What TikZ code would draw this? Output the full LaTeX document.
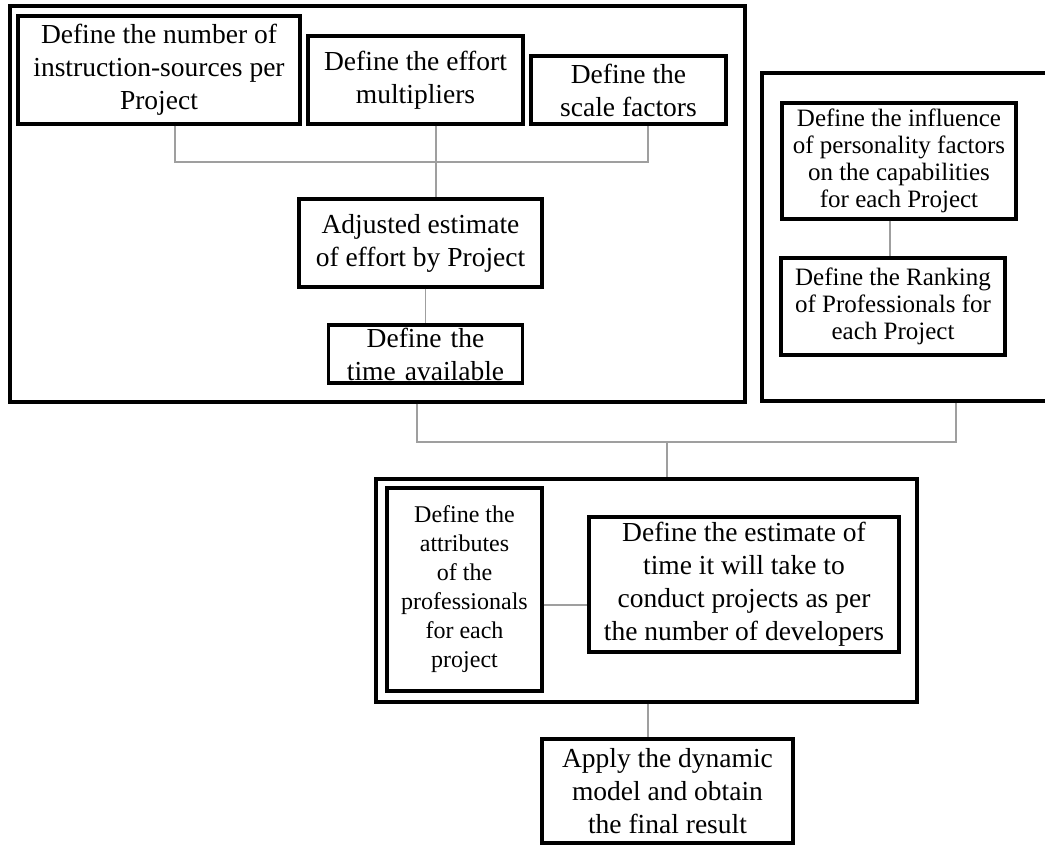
\documentclass[tikz,border=0pt]{standalone}
\usepackage{fontspec}
\setmainfont{Liberation Serif}
\usetikzlibrary{positioning}

\begin{document}
\begin{tikzpicture}[
  x=0.5pt, y=-0.5pt,
  box/.style={rectangle, draw=black, line width=1.6pt, align=center, inner sep=2pt,
              font=\fontsize{13.75}{16.5}\selectfont},
  smallbox/.style={box, font=\fontsize{12.5}{13.5}\selectfont},
  frame/.style={rectangle, draw=black, line width=1.7pt, inner sep=0pt},
  link/.style={draw=gray!75, line width=0.8pt}
]
\useasboundingbox (0,0) rectangle (1045,845);

% ---- LEFT frame: effort per project ----
\node[frame, minimum width=367.5pt, minimum height=198pt] (effort_frame) at (377.5,204) {};

\node[box, minimum width=141pt,   minimum height=54pt] (instr) at (159,70)
  {Define the number of\\instruction-sources per\\Project};
\node[box, minimum width=107.5pt, minimum height=44pt] (mult)  at (415.5,80)
  {Define the effort\\multipliers};
\node[box, minimum width=97.5pt,  minimum height=34pt] (scale) at (628.5,90)
  {Define the\\scale factors};
\node[box, minimum width=121.5pt, minimum height=44pt] (adj)   at (420.5,243)
  {Adjusted estimate\\of effort by Project};
\node[box, align=center, text width=93pt, inner ysep=0pt, text height=11.5pt, text depth=17.5pt]
  (time) at (425.5,354) {Define the\\time available};

\coordinate (effort_bus) at (436,162);
\draw[link] ([xshift=8pt]instr.south) |- (effort_bus) -| ([xshift=9.75pt]scale.south);
\draw[link] (mult.south -| effort_bus) -- (adj.north -| effort_bus);
\draw[link] (time.north |- adj.south) -- (time.north);

% ---- RIGHT frame: professionals ----
\node[frame, minimum width=194pt, minimum height=164pt] (people_frame) at (956,237) {};

\node[smallbox, minimum width=117pt, minimum height=58pt]   (infl) at (899,161)
  {Define the influence\\of personality factors\\on the capabilities\\for each Project};
\node[smallbox, minimum width=112pt, minimum height=48.5pt] (rank) at (893,306.5)
  {Define the Ranking\\of Professionals for\\each Project};

\draw[link] ([xshift=-1.5pt]rank.north |- infl.south) -- ([xshift=-1.5pt]rank.north);

% ---- both frames join ----
\coordinate (main_bus) at (667,442);
\draw[link] ([xshift=19.75pt]effort_frame.south) |- (main_bus) -| (people_frame.south);

% ---- BOTTOM frame: time estimate ----
\node[frame, minimum width=270.5pt, minimum height=111.5pt] (plan_frame) at (646.5,590.5) {};

\node[box, font=\fontsize{12}{14.5}\selectfont, minimum width=77.5pt, minimum height=101.5pt]
  (attr) at (464.5,589.5)
  {Define the\\attributes\\of the\\professionals\\for each\\project};
\node[box, minimum width=155pt, minimum height=67.5pt] (est) at (744,584.5)
  {Define the estimate of\\time it will take to\\conduct projects as per\\the number of developers};

\draw[link] (main_bus) -- (main_bus |- plan_frame.north);
\draw[link] ([yshift=-7.75pt]attr.east) -- ([yshift=-7.75pt]attr.east -| est.west);

% ---- final step ----
\node[box, minimum width=125.5pt, minimum height=52pt] (apply) at (667.5,791)
  {Apply the dynamic\\model and obtain\\the final result};

\draw[link] ([xshift=0.75pt]plan_frame.south) -- ([xshift=0.75pt]plan_frame.south |- apply.north);

\end{tikzpicture}
\end{document}
